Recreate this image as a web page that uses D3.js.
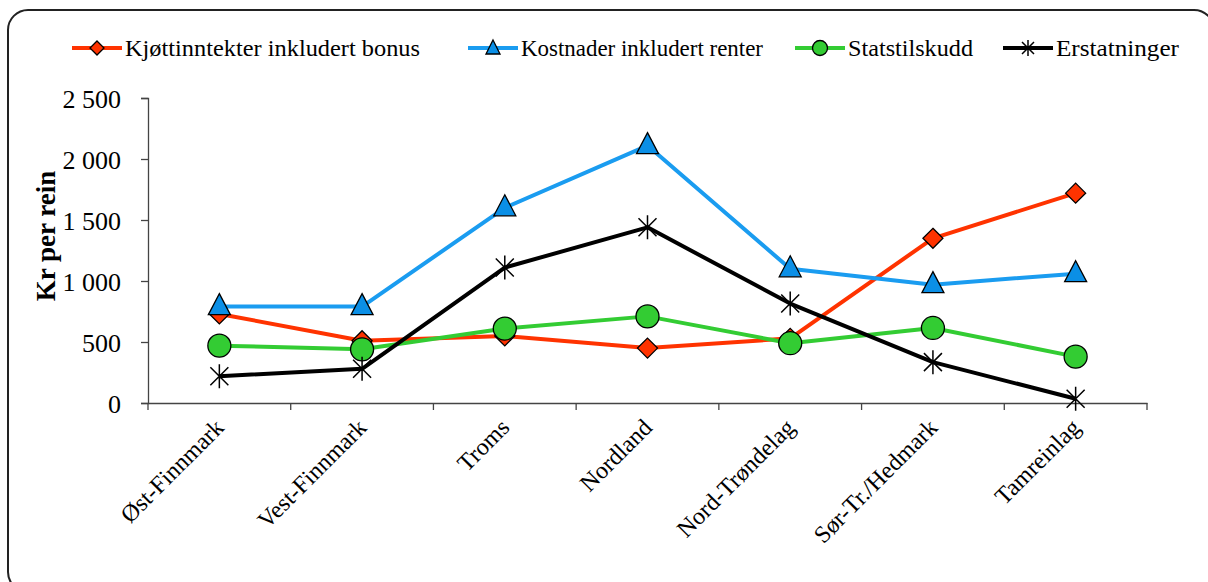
<!DOCTYPE html>
<html><head><meta charset="utf-8">
<script src="https://cdn.jsdelivr.net/npm/d3@7"></script>
<style>
html,body{margin:0;padding:0;background:#fff;}
svg{display:block;}
svg text{font-family:"Liberation Serif","Times New Roman",serif;}
</style></head>
<body>
<svg id="chart" width="1208" height="582"></svg>
<script>
const categories = ["Øst-Finnmark","Vest-Finnmark","Troms","Nordland","Nord-Trøndelag","Sør-Tr./Hedmark","Tamreinlag"];
const kjottinntekter = [730, 510, 550, 450, 530, 1350, 1720];
const kostnader = [790, 790, 1600, 2110, 1100, 970, 1060];
const statstilskudd = [470, 440, 610, 710, 490, 615, 380];
const erstatninger = [220, 280, 1110, 1440, 815, 335, 35];
const seriesNames = ["Kjøttinntekter inkludert bonus","Kostnader inkludert renter","Statstilskudd","Erstatninger"];
const yTicks = [0, 500, 1000, 1500, 2000, 2500];
const yTickLabels = ["0","500","1 000","1 500","2 000","2 500"];
const yTitle = "Kr per rein";

(function(){
const FONT = "'Liberation Serif','Times New Roman',serif";
const svg = d3.select("#chart");
svg.append("rect").attr("x",8).attr("y",10).attr("width",1206).attr("height",582)
  .attr("rx",20).attr("ry",20).attr("fill","#fff").attr("stroke","#222").attr("stroke-width",2);

const pLeft=148, pRight=1147, pTop=98, pBottom=403;
const x = d3.scaleBand().domain(categories).range([pLeft,pRight]);
const y = d3.scaleLinear().domain([0,2500]).range([pBottom,pTop]);

const series = [
  {name:seriesNames[0], values:kjottinntekter, color:"#ff3300", fill:"#ff3300", marker:"diamond"},
  {name:seriesNames[1], values:kostnader, color:"#1a9cf0", fill:"#0b8fe6", marker:"triangle"},
  {name:seriesNames[2], values:statstilskudd, color:"#33cc33", fill:"#33cc33", marker:"circle"},
  {name:seriesNames[3], values:erstatninger, color:"#000", fill:"none", marker:"star"}
];

const yAxis = d3.axisLeft(y).tickValues(yTicks).tickFormat((d,i)=>yTickLabels[i]).tickSize(7).tickPadding(20);
const gy = svg.append("g").attr("transform",`translate(${pLeft},0)`).call(yAxis);
gy.attr("font-family",FONT);
gy.select(".domain").attr("stroke","#444").attr("stroke-width",1.3);
gy.selectAll(".tick line").attr("stroke","#444").attr("stroke-width",1.3);
gy.selectAll(".tick text").attr("font-size",26).attr("fill","#000").attr("dy","0.35em")
  .attr("font-family",FONT);

const xAxis = d3.axisBottom(x).tickSize(0).tickFormat("");
const gx = svg.append("g").attr("transform",`translate(0,${pBottom})`).call(xAxis);
gx.select(".domain").attr("stroke","#444").attr("stroke-width",1.5);
const bounds = categories.map(c=>x(c)).concat([pRight]);
gx.selectAll(".bt").data(bounds).enter().append("line")
  .attr("x1",d=>d).attr("x2",d=>d).attr("y1",0).attr("y2",7).attr("stroke","#444").attr("stroke-width",1.3);
svg.append("g").selectAll("text").data(categories).enter().append("text")
  .attr("transform",d=>`translate(${x(d)+x.bandwidth()/2+6},${pBottom+26}) rotate(-45)`)
  .attr("text-anchor","end").attr("font-size",24).attr("font-family",FONT).attr("fill","#000").text(d=>d);

svg.append("text").attr("transform","translate(55,236) rotate(-90)").attr("text-anchor","middle")
  .attr("font-size",27).attr("font-weight","bold").attr("font-family",FONT).attr("fill","#000").text(yTitle);

function drawMarker(g, type, cx, cy, s){
  if(type==="diamond"){
    g.append("path").attr("d",`M${cx},${cy-10}L${cx+10},${cy}L${cx},${cy+10}L${cx-10},${cy}Z`)
      .attr("fill",s.fill).attr("stroke","#000").attr("stroke-width",1.3);
  } else if(type==="triangle"){
    g.append("path").attr("d",`M${cx},${cy-13}L${cx+11},${cy+8}L${cx-11},${cy+8}Z`)
      .attr("fill",s.fill).attr("stroke","#000").attr("stroke-width",1.3);
  } else if(type==="circle"){
    g.append("circle").attr("cx",cx).attr("cy",cy).attr("r",11.5)
      .attr("fill",s.fill).attr("stroke","#000").attr("stroke-width",1.3);
  } else if(type==="star"){
    const r=12, d=9;
    g.append("path").attr("d",`M${cx},${cy-r}L${cx},${cy+r}M${cx-d},${cy-d}L${cx+d},${cy+d}M${cx-d},${cy+d}L${cx+d},${cy-d}`)
      .attr("stroke","#000").attr("stroke-width",1.5).attr("fill","none");
  }
}

const plot = svg.append("g");
series.forEach(s=>{
  const pts = s.values.map((v,i)=>[x(categories[i])+x.bandwidth()/2, y(v)]);
  const line = d3.line();
  plot.append("path").attr("d",line(pts)).attr("fill","none").attr("stroke",s.color)
    .attr("stroke-width",4).attr("stroke-linejoin","round");
  pts.forEach(p=>drawMarker(plot, s.marker, p[0], p[1], s));
});

const legendX = [72, 468, 795, 1003];
const legendW = [295, 242, 125, 123];
const lg = svg.append("g");
series.forEach((s,i)=>{
  const lx = legendX[i], ly = 48;
  lg.append("line").attr("x1",lx).attr("x2",lx+50).attr("y1",ly).attr("y2",ly)
    .attr("stroke",s.color).attr("stroke-width",4);
  if(s.marker==="triangle"){
    lg.append("path").attr("d",`M${lx+25},${ly-8}L${lx+32},${ly+6}L${lx+18},${ly+6}Z`)
      .attr("fill",s.fill).attr("stroke","#000").attr("stroke-width",1.3);
  } else if(s.marker==="diamond"){
    lg.append("path").attr("d",`M${lx+25},${ly-7}L${lx+32},${ly}L${lx+25},${ly+7}L${lx+18},${ly}Z`)
      .attr("fill",s.fill).attr("stroke","#000").attr("stroke-width",1.3);
  } else if(s.marker==="circle"){
    lg.append("circle").attr("cx",lx+25).attr("cy",ly).attr("r",7.5).attr("fill",s.fill).attr("stroke","#000").attr("stroke-width",1.3);
  } else {
    const cx=lx+25, cy=ly, r=8, d=6;
    lg.append("path").attr("d",`M${cx},${cy-r}L${cx},${cy+r}M${cx-d},${cy-d}L${cx+d},${cy+d}M${cx-d},${cy+d}L${cx+d},${cy-d}`)
      .attr("stroke","#000").attr("stroke-width",1.5);
  }
  lg.append("text").attr("x",lx+53).attr("y",ly).attr("dy","0.35em").attr("font-size",23)
    .attr("font-family",FONT).attr("textLength",legendW[i]).attr("lengthAdjust","spacingAndGlyphs")
    .attr("fill","#000").text(s.name);
});
})();
</script>
</body></html>
